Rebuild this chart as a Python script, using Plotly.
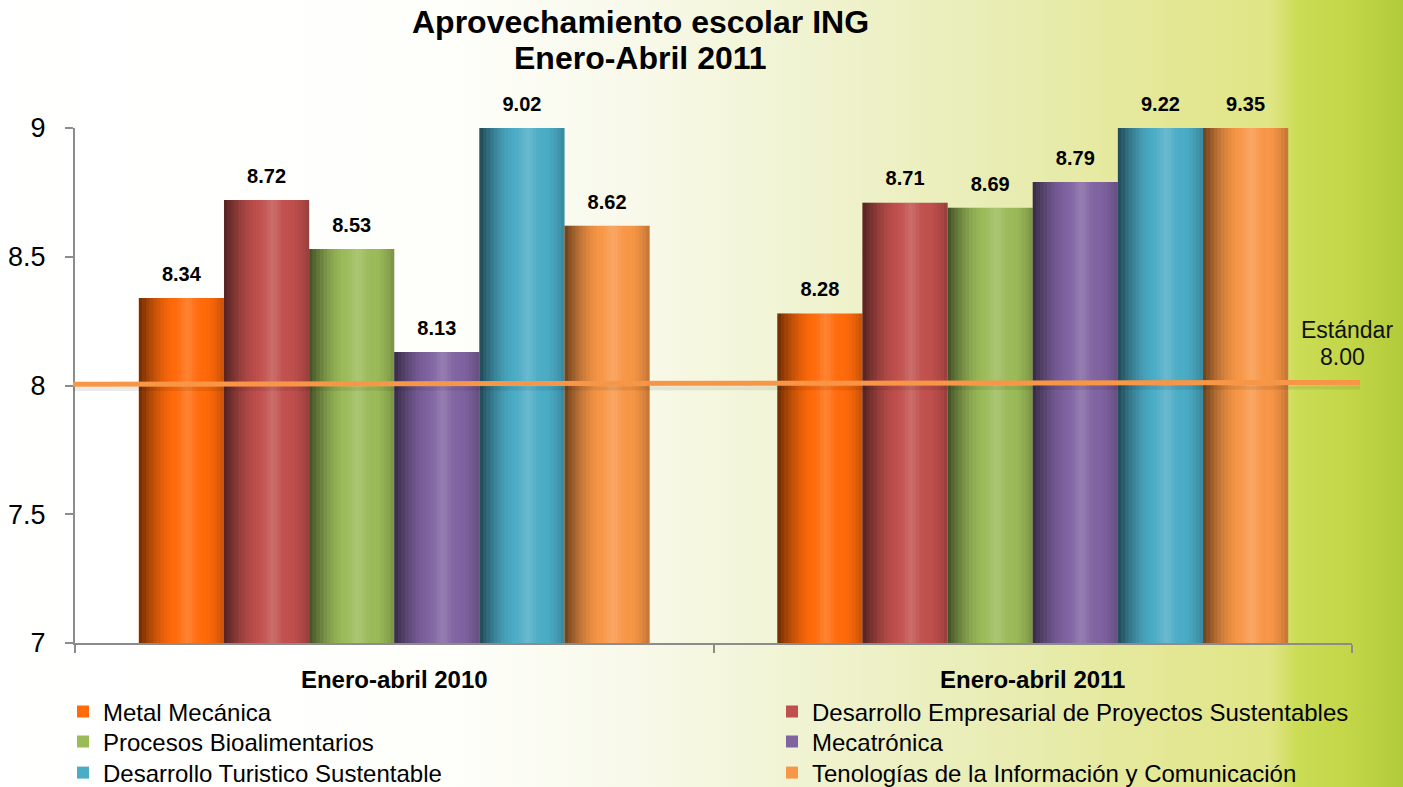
import base64
import numpy as np
import plotly.graph_objects as go

# ---------------- data ----------------
categories = ["Enero-abril 2010", "Enero-abril 2011"]
series_names = [
    "Metal Mecánica",
    "Desarrollo Empresarial de Proyectos Sustentables",
    "Procesos Bioalimentarios",
    "Mecatrónica",
    "Desarrollo Turistico Sustentable",
    "Tenologías de la Información y Comunicación",
]
values_2010 = [8.34, 8.72, 8.53, 8.13, 9.02, 8.62]
values_2011 = [8.28, 8.71, 8.69, 8.79, 9.22, 9.35]
standard_value = 8.00
standard_label = "Estándar"
title_line1 = "Aprovechamiento escolar ING"
title_line2 = "Enero-Abril 2011"
y_ticks = [7, 7.5, 8, 8.5, 9]
y_tick_labels = ["7", "7.5", "8", "8.5", "9"]

colors = ["#FF6A0A", "#C0504D", "#9BBB59", "#8064A2", "#4BACC6", "#F79646"]

# ---------------- layout constants ----------------
W, H = 1403, 787
ML, MR, MT, MB = 75, 51, 128, 144
PW, PH = W - ML - MR, H - MT - MB
YMIN, YMAX = 7, 9
FONT = "Liberation Sans, Arial, sans-serif"


def px_x(p):
    return (p - ML) / PW


def px_y(p):
    return (MT + PH - p) / PH


n = len(series_names)
group = 0.8
bw = group / n
vals = np.array([values_2010, values_2011])  # shape (cat, series)
clipped = np.minimum(vals, YMAX)
cat_idx = np.arange(len(categories))

fig = go.Figure()

legend_ids = ["legend", "legend2", "legend3", "legend4", "legend5", "legend6"]

# main bars
for i, name in enumerate(series_names):
    fig.add_trace(go.Bar(
        x=cat_idx, y=clipped[:, i] - YMIN, base=YMIN,
        offset=-group / 2 + i * bw, width=bw,
        name=name, marker=dict(color=colors[i], line=dict(width=0)),
        legend=legend_ids[i],
        hoverinfo="skip",
    ))

# cylinder shading: thin overlay strips with a smooth light/dark profile
N_STRIPS = 24
xs = np.repeat(cat_idx, n)
ys = clipped.reshape(-1) - YMIN
ser = np.tile(np.arange(n), len(categories))
for k in range(N_STRIPS):
    a, b = k / N_STRIPS, (k + 1) / N_STRIPS
    t = (a + b) / 2
    dark = 0.0
    if t < 0.42:
        dark += 0.58 * (1 - t / 0.42) ** 1.6
    if t > 0.78:
        dark += 0.22 * ((t - 0.78) / 0.22) ** 1.5
    light = 0.16 * np.exp(-((t - 0.57) / 0.09) ** 2)
    if dark >= light:
        c = f"rgba(0,0,0,{dark - light * 0.5:.3f})"
    else:
        c = f"rgba(255,255,255,{light - dark:.3f})"
    fig.add_trace(go.Bar(
        x=xs, y=ys, base=YMIN,
        offset=list(-group / 2 + ser * bw + a * bw), width=(b - a) * bw * 1.02,
        marker=dict(color=c, line=dict(width=0)),
        showlegend=False, hoverinfo="skip",
    ))

# value labels
fig.add_trace(go.Scatter(
    x=xs + (-group / 2 + (ser + 0.5) * bw), y=clipped.reshape(-1),
    mode="markers+text", marker=dict(size=18, color="rgba(0,0,0,0)"),
    text=[f"{v:.2f}" for v in vals.reshape(-1)], textposition="top center",
    textfont=dict(family=FONT, size=20, color="black", weight="bold"),
    showlegend=False, hoverinfo="skip", cliponaxis=False,
))

# standard line
fig.add_shape(type="line", xref="paper", yref="y", x0=px_x(73), x1=px_x(1360),
              y0=standard_value - 0.014, y1=standard_value - 0.008,
              line=dict(color="rgba(0,0,0,0.08)", width=4), layer="above")
fig.add_shape(type="line", xref="paper", yref="y", x0=px_x(73), x1=px_x(1360),
              y0=standard_value + 0.005, y1=standard_value + 0.012,
              line=dict(color="#F79646", width=5), layer="above")
fig.add_annotation(xref="paper", yref="paper", x=px_x(1347), y=px_y(330),
                   text=standard_label, showarrow=False,
                   xanchor="center", yanchor="middle",
                   font=dict(family=FONT, size=23, color="#111"))
fig.add_annotation(xref="paper", yref="paper", x=px_x(1342), y=px_y(357),
                   text=f"{standard_value:.2f}", showarrow=False,
                   xanchor="center", yanchor="middle",
                   font=dict(family=FONT, size=23, color="#111"))

# title
fig.add_annotation(xref="paper", yref="paper", x=px_x(640), y=px_y(22),
                   text=title_line1, showarrow=False, xanchor="center", yanchor="middle",
                   font=dict(family=FONT, size=32, color="black", weight="bold"))
fig.add_annotation(xref="paper", yref="paper", x=px_x(640), y=px_y(58),
                   text=title_line2, showarrow=False, xanchor="center", yanchor="middle",
                   font=dict(family=FONT, size=32, color="black", weight="bold"))

# background gradient image
svg = f'''<svg xmlns="http://www.w3.org/2000/svg" width="{W}" height="{H}" preserveAspectRatio="none">
<defs><linearGradient id="g" x1="0" y1="0" x2="1" y2="0">
<stop offset="0" stop-color="#FFFFFF"/>
<stop offset="0.32" stop-color="#FEFEFB"/>
<stop offset="0.45" stop-color="#F8F9EA"/>
<stop offset="0.56" stop-color="#F1F4D4"/>
<stop offset="0.70" stop-color="#E9EDB6"/>
<stop offset="0.85" stop-color="#E3E791"/>
<stop offset="0.905" stop-color="#E0E586"/>
<stop offset="0.925" stop-color="#CBDC55"/>
<stop offset="0.96" stop-color="#C3D748"/>
<stop offset="1" stop-color="#B2CB3A"/>
</linearGradient></defs>
<rect width="{W}" height="{H}" fill="url(#g)"/></svg>'''
src = "data:image/svg+xml;base64," + base64.b64encode(svg.encode()).decode()
fig.add_layout_image(source=src, xref="paper", yref="paper", x=-ML / PW, y=1 + MT / PH,
                     sizex=W / PW, sizey=H / PH, sizing="stretch", layer="below",
                     xanchor="left", yanchor="top")

# legends: one per entry, placed in a 2-column grid
row_y = [712, 742, 773]
col_x = [63, 772]
legend_layout = {}
for i, lid in enumerate(legend_ids):
    legend_layout[lid] = dict(
        x=px_x(col_x[i % 2]), y=px_y(row_y[i // 2]), xanchor="left", yanchor="middle",
        orientation="v", bgcolor="rgba(0,0,0,0)", borderwidth=0,
        font=dict(family=FONT, size=24, color="black"))

axis_color = "#8C8C8C"
fig.update_layout(
    width=W, height=H,
    margin=dict(l=ML, r=MR, t=MT, b=MB, pad=0, autoexpand=False),
    paper_bgcolor="white", plot_bgcolor="rgba(0,0,0,0)",
    barmode="overlay",
    font=dict(family=FONT, color="black"),
    xaxis=dict(range=[-0.5, 1.5], tickvals=list(cat_idx), ticktext=categories,
               ticks="", showgrid=False, zeroline=False, showline=True,
               linecolor=axis_color, linewidth=2,
               tickfont=dict(family=FONT, size=24, color="black", weight="bold"),
               ticklabelstandoff=14,
               minor=dict(tickvals=[-0.5, 0.5, 1.5], ticks="outside", ticklen=8,
                          tickcolor=axis_color, tickwidth=2, showgrid=False)),
    yaxis=dict(range=[YMIN, YMAX], tickvals=y_ticks, ticktext=y_tick_labels,
               ticks="outside", ticklen=8, tickcolor=axis_color, tickwidth=2,
               showgrid=False, zeroline=False, showline=True,
               linecolor=axis_color, linewidth=2,
               tickfont=dict(family=FONT, size=27, color="black"),
               ticklabelstandoff=14),
    showlegend=True,
    **legend_layout,
)

fig.write_html("out.html", config={"displayModeBar": False},
               post_script="document.body.style.margin='0';")
